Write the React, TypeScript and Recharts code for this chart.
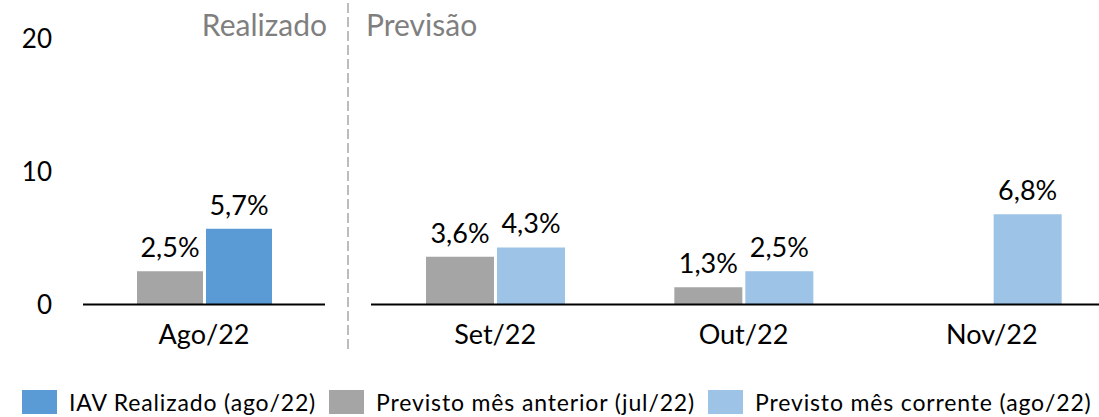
import { BarChart, Bar, XAxis, YAxis, LabelList } from "recharts";

// meses realizados / previstos
const realizedMonths = ["Ago/22"];
const forecastMonths = ["Set/22", "Out/22", "Nov/22"];

// valores em %
const iavRealizado = [5.7];
const previstoAnteriorRealizado = [2.5];
const previstoAnterior = [3.6, 1.3, null];
const previstoCorrente = [4.3, 2.5, 6.8];

const yTicks = [0, 10, 20];

const COLORS = {
  realizado: "#5b9bd5",
  anterior: "#a5a5a5",
  corrente: "#9dc3e6",
};

const legendItems = [
  { name: "IAV Realizado (ago/22)", color: COLORS.realizado },
  { name: "Previsto mês anterior (jul/22)", color: COLORS.anterior },
  { name: "Previsto mês corrente (ago/22)", color: COLORS.corrente },
];

const leftData = realizedMonths.map((m, i) => ({
  month: m,
  anterior: previstoAnteriorRealizado[i],
  realizado: iavRealizado[i],
}));

const rightData = forecastMonths.map((m, i) => ({
  month: m,
  anterior: previstoAnterior[i],
  corrente: previstoCorrente[i],
}));

const fmt = (v: any) =>
  v == null ? "" : Number(v).toFixed(1).replace(".", ",") + "%";

const FONT = "Lato, sans-serif";
const CHART_H = 360;
const MARGIN = { top: 39, right: 0, bottom: 0, left: 0 };
const tickStyle = { fill: "#000", fontSize: 26 };
const catStyle = { fill: "#000", fontSize: 27 };
const axisLine = { stroke: "#000", strokeWidth: 2 };

const App = () => {
  return (
    <div
      style={{
        position: "absolute",
        left: 0,
        top: 0,
        width: 1099,
        height: 417,
        overflow: "hidden",
        background: "#fff",
        fontFamily: FONT,
      }}
    >
      {/* Realizado */}
      <div style={{ position: "absolute", left: 0, top: 0 }}>
        <BarChart
          width={325}
          height={CHART_H}
          data={leftData}
          margin={MARGIN}
          barSize={66}
          barGap={3}
        >
          <YAxis
            width={83}
            domain={[0, 20]}
            ticks={yTicks}
            axisLine={false}
            tickLine={false}
            tickSize={0}
            tickMargin={31}
            tick={tickStyle}
          />
          <XAxis
            dataKey="month"
            height={55.5}
            axisLine={axisLine}
            tickLine={false}
            tickSize={0}
            tickMargin={20}
            tick={catStyle}
          />
          <Bar dataKey="anterior" fill={COLORS.anterior} isAnimationActive={false}>
            <LabelList dataKey="anterior" position="top" offset={14} formatter={fmt} fill="#000" fontSize={27} />
          </Bar>
          <Bar dataKey="realizado" fill={COLORS.realizado} isAnimationActive={false}>
            <LabelList dataKey="realizado" position="top" offset={14} formatter={fmt} fill="#000" fontSize={27} />
          </Bar>
        </BarChart>
      </div>

      {/* Previsão */}
      <div style={{ position: "absolute", left: 371, top: 0 }}>
        <BarChart
          width={745}
          height={CHART_H}
          data={rightData}
          margin={MARGIN}
          barSize={68}
          barGap={3}
        >
          <YAxis hide domain={[0, 20]} ticks={yTicks} />
          <XAxis
            dataKey="month"
            height={55.5}
            axisLine={axisLine}
            tickLine={false}
            tickSize={0}
            tickMargin={20}
            tick={catStyle}
          />
          <Bar dataKey="anterior" fill={COLORS.anterior} isAnimationActive={false}>
            <LabelList dataKey="anterior" position="top" offset={14} formatter={fmt} fill="#000" fontSize={27} />
          </Bar>
          <Bar dataKey="corrente" fill={COLORS.corrente} isAnimationActive={false}>
            <LabelList dataKey="corrente" position="top" offset={14} formatter={fmt} fill="#000" fontSize={27} />
          </Bar>
        </BarChart>
      </div>

      {/* divisória e títulos */}
      <svg
        width={1099}
        height={417}
        style={{ position: "absolute", left: 0, top: 0, pointerEvents: "none" }}
      >
        <line x1={348} x2={348} y1={3} y2={350} stroke="#a6a6a6" strokeWidth={1.5} strokeDasharray="10 4" />
        <text x={327} y={36} textAnchor="end" fill="#7f7f7f" fontSize={30} fontFamily={FONT}>
          Realizado
        </text>
        <text x={366} y={36} textAnchor="start" fill="#7f7f7f" fontSize={30} fontFamily={FONT}>
          Previsão
        </text>
      </svg>

      {/* legenda */}
      <div
        style={{
          position: "absolute",
          left: 22,
          top: 390,
          display: "flex",
          alignItems: "center",
          fontSize: 23,
          letterSpacing: 0.85,
          color: "#000",
          whiteSpace: "nowrap",
        }}
      >
        {legendItems.map((it) => (
          <div key={it.name} style={{ display: "flex", alignItems: "center", marginRight: 13 }}>
            <span style={{ width: 35, height: 24, background: it.color, display: "inline-block" }} />
            <span style={{ marginLeft: 12, lineHeight: "24px" }}>{it.name}</span>
          </div>
        ))}
      </div>
    </div>
  );
};

export default App;
